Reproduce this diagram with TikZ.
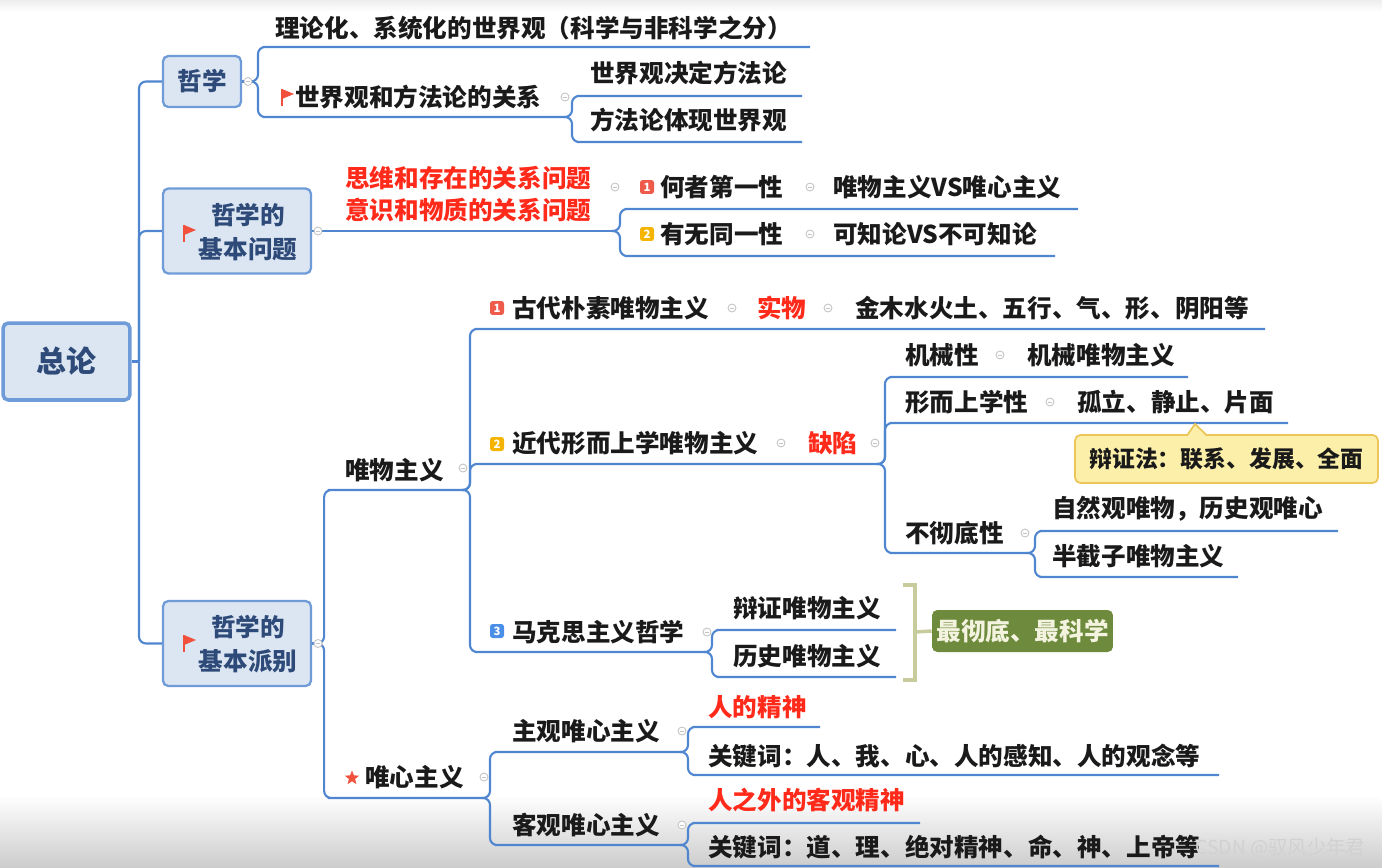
\documentclass[tikz,border=0pt]{standalone}
\usepackage{fontspec}
\newfontfamily\cjk{Noto Sans CJK SC}
\usetikzlibrary{shapes.geometric}
\definecolor{mapline}{HTML}{4F86CF}
\definecolor{boxfill}{HTML}{DCE6F3}
\definecolor{boxline}{HTML}{6F9BD8}
\definecolor{navy}{HTML}{2E4A78}
\definecolor{ink}{HTML}{1A1A1A}
\definecolor{hotred}{HTML}{FF2A1A}
\definecolor{foldgray}{HTML}{C4C4C4}
\definecolor{flagred}{HTML}{F0503C}
\definecolor{badgered}{HTML}{EE5B4A}
\definecolor{badgeorange}{HTML}{F5B400}
\definecolor{badgeblue}{HTML}{4A8FE7}
\definecolor{notefill}{HTML}{FCEFA9}
\definecolor{noteline}{HTML}{EDC65A}
\definecolor{sumline}{HTML}{C8CC9C}
\definecolor{sumfill}{HTML}{6E8B3D}
\definecolor{sumtext}{HTML}{F3F3E0}
\tikzset{
  branch/.style={draw=mapline,line width=1.2pt,rounded corners=4pt},
  topic/.style={anchor=west,inner sep=0pt,text=ink,font=\cjk\bfseries\fontsize{14}{16}\selectfont},
  hot/.style={topic,text=hotred},
  mainbox/.style={rounded corners=3pt,draw=boxline,fill=boxfill,line width=1.3pt,inner sep=0pt,
    text=navy,font=\cjk\bfseries\fontsize{14}{16}\selectfont},
  boxtext/.style={inner sep=0pt,text=navy,align=center,font=\cjk\bfseries\fontsize{14}{19.3}\selectfont},
  fold/.style={circle,draw=foldgray,fill=white,line width=0.5pt,minimum size=0.16cm,inner sep=0pt,
    path picture={\draw[foldgray,line width=0.5pt] ([xshift=-1.2pt]path picture bounding box.center)
      -- ([xshift=1.2pt]path picture bounding box.center);}},
  badge/.style={fill=#1,rounded corners=1.5pt,minimum size=0.28cm,inner sep=0pt,text=white,
    font=\cjk\bfseries\fontsize{6.5}{7}\selectfont},
  badge/.default=badgered,
  note/.style={rounded corners=3pt,draw=noteline,fill=notefill,line width=1pt,inner sep=0pt,
    minimum width=6.06cm,minimum height=0.96cm,text=ink,font=\cjk\bfseries\fontsize{13}{15}\selectfont},
  summary/.style={rounded corners=3pt,fill=sumfill,inner sep=0pt,minimum width=3.62cm,
    minimum height=0.84cm,text=sumtext,font=\cjk\bfseries\fontsize{14}{16}\selectfont},
  pics/redflag/.style={code={
    \draw[flagred,line width=1.3pt] (0,-8) -- (0,9);
    \fill[flagred] (0,-8) -- (12,-3) -- (0,2) -- cycle;}},
}
\begin{document}
\begin{tikzpicture}[x=0.02cm,y=-0.02cm]
  \useasboundingbox (0,0) rectangle (1382,868);
  \shade[top color=white,bottom color=black!20] (0,795) rectangle (1382,868);
  \shade[top color=black!7,bottom color=white] (0,0) rectangle (1382,12);

  % root and first level
  \node[mainbox,line width=2pt,minimum width=2.54cm,minimum height=1.54cm,
    font=\cjk\bfseries\fontsize{17}{20}\selectfont] (root) at (66.5,361.5) {总论};
  \node[mainbox,minimum width=1.56cm,minimum height=1.02cm] (phil) at (202,81.5) {哲学};
  \node[mainbox,minimum width=2.96cm,minimum height=1.7cm] (basicq) at (237,231) {};
  \node[boxtext] (basicqT) at (248,232) {哲学的\\基本问题};
  \pic at (184,233) {redflag};
  \node[mainbox,minimum width=2.96cm,minimum height=1.7cm] (basics) at (237,643.5) {};
  \node[boxtext] (basicsT) at (248,644) {哲学的\\基本派别};
  \pic at (184,643) {redflag};
  \coordinate (trunk) at (139,361.5);
  \draw[branch] (root.east) -- (trunk);
  \draw[branch] (trunk) |- (phil.west);
  \draw[branch] (trunk) |- (basicq.west);
  \draw[branch] (trunk) |- (basics.west);

  % 哲学
  \coordinate (jphil) at (250,81.5);
  \coordinate (t1s) at (270,47);   \coordinate (t1e) at (810,47);
  \coordinate (t2s) at (270,117);  \coordinate (t2e) at (564,117);
  \coordinate (t21s) at (584,96);  \coordinate (t21e) at (802,96);
  \coordinate (t22s) at (584,142); \coordinate (t22e) at (802,142);
  \draw[branch] (phil.east) -- (jphil);
  \draw[branch] (jphil) -- ++(8,0) |- (t1s) -- (t1e);
  \draw[branch] (jphil) -- ++(8,0) |- (t2s) -- (t2e);
  \draw[branch] (t2e) -- ++(8,0) |- (t21s) -- (t21e);
  \draw[branch] (t2e) -- ++(8,0) |- (t22s) -- (t22e);
  \node[topic] (t1) at (275,28) {理论化、系统化的世界观（科学与非科学之分）};
  \pic at (282,97) {redflag};
  \node[topic] (t2) at (295,97) {世界观和方法论的关系};
  \node[topic] (t21) at (590,73) {世界观决定方法论};
  \node[topic] (t22) at (590,120) {方法论体现世界观};
  \node[fold] (fphil) at (248,81.5) {};
  \node[fold] (ft2) at (565,97) {};

  % 哲学的基本问题
  \coordinate (qe) at (612,231);
  \coordinate (q1s) at (632,209); \coordinate (q1e) at (1078,209);
  \coordinate (q2s) at (632,256); \coordinate (q2e) at (1055,256);
  \draw[branch] (basicq.east) -- (qe);
  \draw[branch] (qe) -- ++(8,0) |- (q1s) -- (q1e);
  \draw[branch] (qe) -- ++(8,0) |- (q2s) -- (q2e);
  \node[hot,align=left,font=\cjk\bfseries\fontsize{14}{18.1}\selectfont] (q) at (345,194)
    {思维和存在的关系问题\\意识和物质的关系问题};
  \node[badge] (bq1) at (647,187) {1};
  \node[topic] (q1) at (660,187) {何者第一性};
  \node[topic] (q1a) at (833,187) {唯物主义VS唯心主义};
  \node[badge=badgeorange] (bq2) at (647,234) {2};
  \node[topic] (q2) at (660,234) {有无同一性};
  \node[topic] (q2a) at (833,234) {可知论VS不可知论};
  \node[fold] (fbasicq) at (318,231) {};
  \node[fold] (fq) at (615,187) {};
  \node[fold] (fq1) at (810,187) {};
  \node[fold] (fq2) at (810,234) {};

  % 哲学的基本派别
  \coordinate (ms) at (335,490);   \coordinate (me) at (462,490);
  \coordinate (is) at (335,798);   \coordinate (ie) at (482,798);
  \draw[branch] (basics.east) -- ++(12,0) |- (ms) -- (me);
  \draw[branch] (basics.east) -- ++(12,0) |- (is) -- (ie);
  \node[topic] (m) at (345,470) {唯物主义};
  \node[star,star points=5,star point ratio=2.3,fill=flagred,inner sep=0pt,minimum size=0.3cm] (istar) at (352,778) {};
  \node[topic] (i) at (365,777) {唯心主义};
  \node[fold] (fbasics) at (318,643.5) {};

  % 唯物主义
  \coordinate (m1s) at (482,329);  \coordinate (m1e) at (1265,329);
  \coordinate (m2s) at (482,464);  \coordinate (m2e) at (877,464);
  \coordinate (m3s) at (482,652);  \coordinate (m3e) at (704,652);
  \draw[branch] (me) -- ++(8,0) |- (m1s) -- (m1e);
  \draw[branch] (me) -- ++(8,0) |- (m2s) -- (m2e);
  \draw[branch] (me) -- ++(8,0) |- (m3s) -- (m3e);
  \node[fold] (fm) at (463,468) {};
  \node[badge] (bm1) at (497,308) {1};
  \node[topic] (m1) at (512,308) {古代朴素唯物主义};
  \node[hot] (m1a) at (757,308) {实物};
  \node[topic] (m1b) at (855,308) {金木水火土、五行、气、形、阴阳等};
  \node[fold] (fm1) at (732,308) {};
  \node[fold] (fm1a) at (828,308) {};
  \node[badge=badgeorange] (bm2) at (497,444) {2};
  \node[topic] (m2) at (512,443) {近代形而上学唯物主义};
  \node[hot] (m2a) at (808,443) {缺陷};
  \node[fold] (fm2) at (781,443) {};
  \node[fold] (fm2a) at (875,443) {};

  % 缺陷
  \coordinate (m21s) at (897,377);  \coordinate (m21e) at (1188,377);
  \coordinate (m22s) at (897,423);  \coordinate (m22e) at (1288,423);
  \coordinate (m23s) at (897,553);  \coordinate (m23e) at (1027,553);
  \coordinate (m231s) at (1047,531); \coordinate (m231e) at (1338,531);
  \coordinate (m232s) at (1047,577); \coordinate (m232e) at (1238,577);
  \draw[branch] (m2e) -- ++(8,0) |- (m21s) -- (m21e);
  \draw[branch] (m2e) -- ++(8,0) |- (m22s) -- (m22e);
  \draw[branch] (m2e) -- ++(8,0) |- (m23s) -- (m23e);
  \draw[branch] (m23e) -- ++(8,0) |- (m231s) -- (m231e);
  \draw[branch] (m23e) -- ++(8,0) |- (m232s) -- (m232e);
  \node[topic] (m21) at (905,355) {机械性};
  \node[topic] (m21a) at (1027,355) {机械唯物主义};
  \node[topic] (m22) at (905,402) {形而上学性};
  \node[topic] (m22a) at (1077,402) {孤立、静止、片面};
  \node[topic] (m23) at (905,533) {不彻底性};
  \node[topic] (m231) at (1052,509) {自然观唯物，历史观唯心};
  \node[topic] (m232) at (1052,556) {半截子唯物主义};
  \node[fold] (fm21) at (1000,355) {};
  \node[fold] (fm22) at (1050,402) {};
  \node[fold] (fm23) at (1025,533) {};
  \node[note] (dia) at (1226.5,459) {辩证法：联系、发展、全面};
  \fill[notefill] (1187,437) -- (1195,424) -- (1207,437) -- cycle;
  \draw[noteline,line width=1pt,line join=round] (1187,435.5) -- (1195,424) -- (1207,435.5);

  % 马克思主义哲学
  \coordinate (m31s) at (724,630); \coordinate (m31e) at (896,630);
  \coordinate (m32s) at (724,677); \coordinate (m32e) at (896,677);
  \draw[branch] (m3e) -- ++(8,0) |- (m31s) -- (m31e);
  \draw[branch] (m3e) -- ++(8,0) |- (m32s) -- (m32e);
  \node[badge=badgeblue] (bm3) at (497,631) {3};
  \node[topic] (m3) at (512,632) {马克思主义哲学};
  \node[topic] (m31) at (733,608) {辩证唯物主义};
  \node[topic] (m32) at (733,656) {历史唯物主义};
  \node[fold] (fm3) at (707,632) {};
  \node[summary] (best) at (1022.5,631) {最彻底、最科学};
  \coordinate (brk) at (915,632);
  \draw[sumline,line width=2pt] (903,585) -- (915,585) -- (915,680) -- (903,680);
  \draw[sumline,line width=2pt] (brk) -- (best.west);

  % 唯心主义
  \coordinate (i1s) at (502,752);  \coordinate (i1e) at (680,752);
  \coordinate (i2s) at (502,845);  \coordinate (i2e) at (680,845);
  \coordinate (i11s) at (700,727); \coordinate (i11e) at (820,727);
  \coordinate (i12s) at (700,775); \coordinate (i12e) at (1219,775);
  \coordinate (i21s) at (700,823); \coordinate (i21e) at (920,823);
  \coordinate (i22s) at (700,866); \coordinate (i22e) at (1219,866);
  \draw[branch] (ie) -- ++(8,0) |- (i1s) -- (i1e);
  \draw[branch] (ie) -- ++(8,0) |- (i2s) -- (i2e);
  \draw[branch] (i1e) -- ++(8,0) |- (i11s) -- (i11e);
  \draw[branch] (i1e) -- ++(8,0) |- (i12s) -- (i12e);
  \draw[branch] (i2e) -- ++(8,0) |- (i21s) -- (i21e);
  \draw[branch] (i2e) -- ++(8,0) |- (i22s) -- (i22e);
  \node[fold] (fi) at (484,777) {};
  \node[topic] (i1) at (512,731) {主观唯心主义};
  \node[topic] (i2) at (512,825) {客观唯心主义};
  \node[fold] (fi1) at (682,731) {};
  \node[fold] (fi2) at (682,825) {};
  \node[hot] (i11) at (708,707) {人的精神};
  \node[topic] (i12) at (708,756) {关键词：人、我、心、人的感知、人的观念等};
  \node[hot] (i21) at (708,800) {人之外的客观精神};
  \node[topic] (i22) at (708,847) {关键词：道、理、绝对精神、命、神、上帝等};

  \node[anchor=west,inner sep=0pt,text=white!82!black,font=\cjk\fontsize{11}{13}\selectfont] (mark) at (1195,848) {CSDN @驭风少年君};
\end{tikzpicture}
\end{document}
